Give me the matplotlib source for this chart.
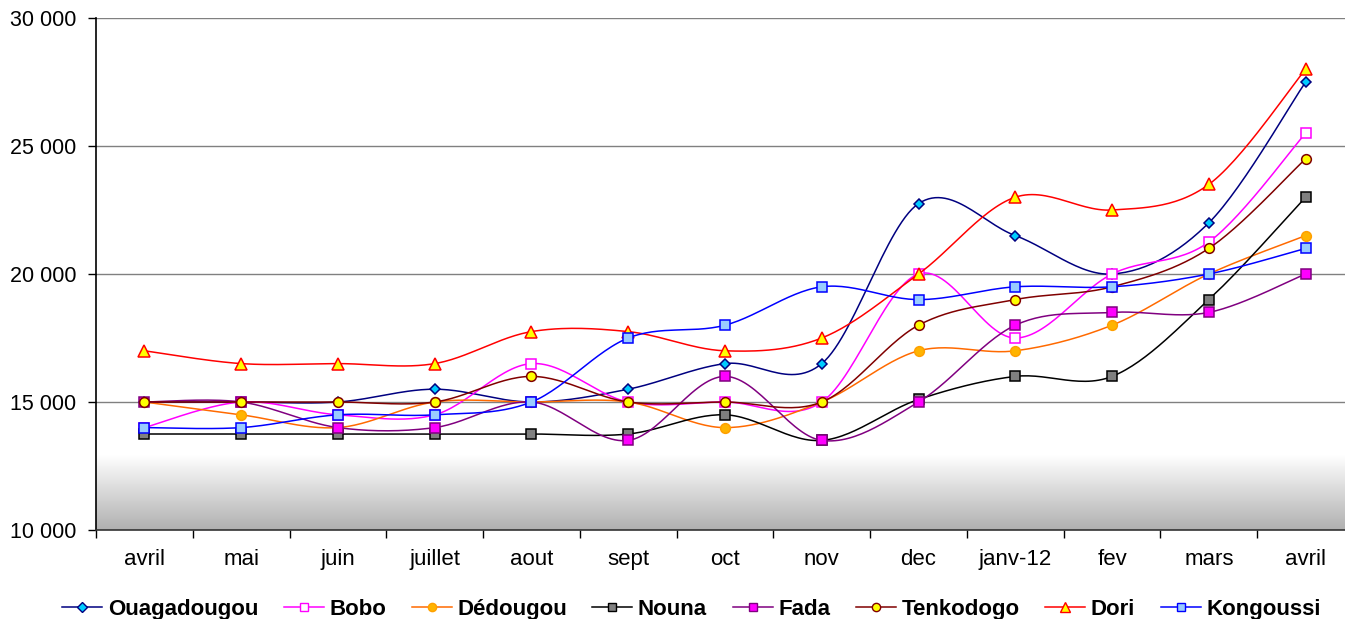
import numpy as np
import matplotlib
matplotlib.use("Agg")
import matplotlib.pyplot as plt
from matplotlib.ticker import FuncFormatter, FixedLocator

plt.rcParams['font.family'] = ['Liberation Sans', 'DejaVu Sans']

months = ["avril", "mai", "juin", "juillet", "aout", "sept", "oct", "nov",
          "dec", "janv-12", "fev", "mars", "avril"]

ouagadougou = [15000, 15000, 15000, 15500, 15000, 15500, 16500, 16500, 22750, 21500, 20000, 22000, 27500]
bobo        = [14000, 15000, 14500, 14500, 16500, 15000, 15000, 15000, 20000, 17500, 20000, 21250, 25500]
dedougou    = [15000, 14500, 14000, 15000, 15000, 15000, 14000, 15000, 17000, 17000, 18000, 20000, 21500]
nouna       = [13750, 13750, 13750, 13750, 13750, 13750, 14500, 13500, 15100, 16000, 16000, 19000, 23000]
fada        = [15000, 15000, 14000, 14000, 15000, 13500, 16000, 13500, 15000, 18000, 18500, 18500, 20000]
tenkodogo   = [15000, 15000, 15000, 15000, 16000, 15000, 15000, 15000, 18000, 19000, 19500, 21000, 24500]
dori        = [17000, 16500, 16500, 16500, 17750, 17750, 17000, 17500, 20000, 23000, 22500, 23500, 28000]
kongoussi   = [14000, 14000, 14500, 14500, 15000, 17500, 18000, 19500, 19000, 19500, 19500, 20000, 21000]

# name, values, line colour, marker, face colour, edge colour, marker size
series = [
    ("Ouagadougou", ouagadougou, "#000080", "D", "#00ccff", "#000080", 5.5),
    ("Bobo", bobo, "#ff00ff", "s", "#ffffff", "#ff00ff", 7),
    ("Dédougou", dedougou, "#ff6a00", "o", "#ffb400", "#ffa000", 7),
    ("Nouna", nouna, "#000000", "s", "#808080", "#000000", 6.5),
    ("Fada", fada, "#800080", "s", "#ff00ff", "#800080", 7),
    ("Tenkodogo", tenkodogo, "#800000", "o", "#ffff00", "#800000", 7),
    ("Dori", dori, "#ff0000", "^", "#ffff00", "#ff0000", 8),
    ("Kongoussi", kongoussi, "#0000ff", "s", "#99ccff", "#0000ff", 7),
]


def smooth(xs, ys, ysc, n=30):
    # Catmull-Rom style bezier like Excel smoothed lines (done in scaled space)
    x = np.asarray(xs, float)
    y = np.asarray(ys, float) / ysc
    px = np.concatenate([[x[0]], x, [x[-1]]])
    py = np.concatenate([[y[0]], y, [y[-1]]])
    outx, outy = [], []
    t = np.linspace(0, 1, n)
    for i in range(1, len(px) - 2):
        p0 = np.array([px[i], py[i]])
        p3 = np.array([px[i + 1], py[i + 1]])
        c1 = p0 + (p3 - np.array([px[i - 1], py[i - 1]])) / 6.0
        c2 = p3 - (np.array([px[i + 2], py[i + 2]]) - p0) / 6.0
        b = ((1 - t) ** 3)[:, None] * p0 + (3 * (1 - t) ** 2 * t)[:, None] * c1 \
            + (3 * (1 - t) * t ** 2)[:, None] * c2 + (t ** 3)[:, None] * p3
        outx.extend(b[:, 0])
        outy.extend(b[:, 1])
    return np.array(outx), np.array(outy) * ysc


fig = plt.figure(figsize=(13.45, 6.19), dpi=100)
ax = fig.add_axes([96 / 1345, 1 - 530 / 619, 1258 / 1345, 512 / 619])
ax.set_xlim(-0.5, 12.5)
ax.set_ylim(10000, 30000)

# grey gradient at the bottom of the plot area
grad = np.linspace(0, 1, 256)[:, None]
cmap = matplotlib.colors.LinearSegmentedColormap.from_list("g", ["#b0b0b0", "#ffffff"])
ax.imshow(grad, extent=[-0.5, 12.5, 10000, 12900], origin="lower", aspect="auto",
          cmap=cmap, zorder=0)

for v in [15000, 20000, 25000, 30000]:
    ax.axhline(v, color="#808080", lw=1, zorder=1)

x = np.arange(len(months))
# per-pixel y scaling so the curve is smoothed in screen space
ysc = 20000 / 512 * 96.8
handles = []
for k, (name, vals, lc, mk, fc, ec, ms) in enumerate(series):
    sx, sy = smooth(x, vals, ysc)
    ax.plot(sx, sy, color=lc, lw=1.1, zorder=3 + k)
    ax.plot(x, vals, ls="none", marker=mk, ms=ms, mfc=fc, mec=ec, mew=1.1, zorder=3 + k)
    h, = ax.plot([], [], color=lc, lw=1.1, marker=mk, ms=ms * 0.85, mfc=fc, mec=ec, mew=1.0,
                 label=name)
    handles.append(h)

for s in ["top", "right"]:
    ax.spines[s].set_visible(False)
ax.spines["left"].set_linewidth(1.2)
ax.spines["bottom"].set_linewidth(1.2)
ax.spines["bottom"].set_color("#333333")

ax.set_yticks([10000, 15000, 20000, 25000, 30000])
ax.yaxis.set_major_formatter(FuncFormatter(lambda v, p: f"{int(v):,}".replace(",", " ")))
ax.tick_params(axis="y", length=6, width=1, pad=8, labelsize=15.5)

ax.set_xticks(x)
ax.set_xticklabels(months)
ax.xaxis.set_minor_locator(FixedLocator(np.arange(-0.5, 13, 1.0)))
ax.tick_params(axis="x", which="major", length=0, pad=14, labelsize=16)
ax.tick_params(axis="x", which="minor", length=6, width=1)

fig.legend(handles=handles, loc="center", bbox_to_anchor=(0.514, 0.016), ncol=8,
           frameon=False, handlelength=1.8, handletextpad=0.25, columnspacing=1.15,
           prop={"weight": "bold", "size": 16})

fig.savefig("out.png", dpi=100)
